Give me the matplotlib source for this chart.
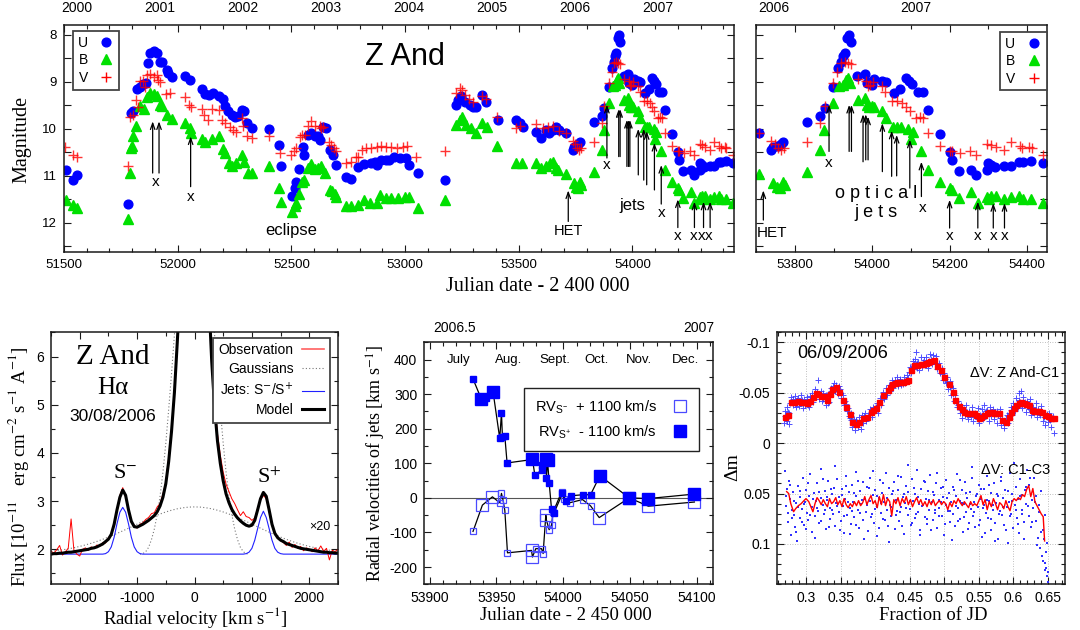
import numpy as np
import matplotlib
matplotlib.use("Agg")
import matplotlib.pyplot as plt
from matplotlib.ticker import MultipleLocator, FuncFormatter, NullFormatter
from matplotlib.lines import Line2D
import matplotlib.transforms as mtrans

SANS = ["Liberation Sans", "DejaVu Sans"]
SERIF = ["Liberation Serif", "DejaVu Serif"]
plt.rcParams["font.family"] = SANS
plt.rcParams["axes.unicode_minus"] = False
plt.rcParams["mathtext.fontset"] = "stix"

# ------------------------------------------------------------------ data
# light curves (JD - 2400000, magnitude)
U_JD = [51509, 51538, 51556, 51780, 51794, 51805, 51820, 51834, 51849, 51860,
        51871, 51878, 51897, 51907, 51922, 51929, 51951, 51958, 51977, 52032,
        52054, 52105, 52122, 52137, 52156, 52183, 52200, 52207, 52222, 52237,
        52251, 52266, 52281, 52291, 52307, 52325, 52402, 52445, 52456,
        52505, 52515, 52522, 52534, 52552, 52555, 52574, 52588, 52603, 52617,
        52628, 52639, 52651, 52672, 52683, 52698, 52742, 52764, 52793, 52818,
        52852, 52866, 52877, 52896, 52918, 52929, 52950, 52976, 53006, 53017,
        53057, 53174, 53225, 53233, 53247, 53262, 53284, 53299, 53313, 53340,
        53357, 53408, 53489, 53504, 53518,
        53577, 53599, 53621, 53635, 53650, 53665, 53676,
        53708, 53739, 53744, 53755, 53763, 53769, 53832, 53865, 53877, 53899,
        53912, 53918, 53925, 53929, 53935, 53940, 53946, 53961, 53981, 53987,
        53994, 53998, 54005, 54026, 54035, 54056, 54071, 54087, 54095, 54102,
        54118, 54130, 54144, 54174, 54200, 54205, 54223, 54256, 54269, 54297,
        54299, 54308, 54317, 54340, 54360, 54379, 54390, 54411, 54441]
U_MAG = [10.87, 11.09, 10.99, 11.60, 9.67, 9.61, 9.15, 9.10, 9.05, 9.03,
         8.59, 8.39, 8.35, 8.39, 8.57, 8.57, 8.74, 8.82, 8.90, 8.87,
         8.96, 9.16, 9.26, 9.28, 9.24, 9.31, 9.37, 9.52, 9.63, 9.70,
         9.74, 9.72, 9.60, 9.61, 9.87, 9.99, 10.00, 10.34, 10.78,
         11.42, 11.26, 11.12, 10.85, 10.39, 10.55, 10.13, 10.09, 10.16, 10.16,
         10.23, 9.96, 9.99, 10.45, 10.55, 10.77, 11.03, 11.07, 10.82, 10.74,
         10.73, 10.70, 10.77, 10.66, 10.66, 10.66, 10.59, 10.62, 10.62, 10.77,
         10.94, 11.09, 9.49, 9.38, 9.30, 9.42, 9.49, 9.54, 9.54, 9.28,
         9.42, 9.81, 9.82, 9.88, 9.95,
         10.06, 10.20, 10.02, 10.09, 10.02, 9.96, 10.02,
         10.09, 10.45, 10.38, 10.36, 10.32, 10.29, 9.86, 9.72, 9.55, 9.10,
         8.71, 8.57, 8.46, 8.39, 8.07, 8.00, 8.16, 8.87, 8.84, 9.03,
         9.00, 9.06, 8.94, 8.99, 9.01, 9.24, 9.15, 8.92, 8.98, 9.04,
         9.21, 9.21, 9.60, 10.11, 10.50, 10.66, 10.89, 10.87, 10.99, 10.87,
         10.73, 10.77, 10.82, 10.79, 10.79, 10.70, 10.70, 10.68, 10.73]

B_JD = [51509, 51538, 51556, 51780, 51790, 51794, 51797, 51805, 51816, 51834,
        51851, 51866, 51878, 51895, 51907, 51922, 51929, 51954, 51977, 52032,
        52054, 52057, 52105, 52122, 52153, 52183, 52200, 52207, 52226, 52241,
        52256, 52285, 52291, 52310, 52329, 52402, 52445, 52456,
        52505, 52515, 52522, 52534, 52549, 52555, 52574, 52588, 52603, 52617,
        52632, 52647, 52669, 52680, 52691, 52698, 52742, 52764, 52793, 52818,
        52845, 52877, 52888, 52918, 52940, 52969, 52998, 53017, 53057, 53174,
        53225, 53240, 53252, 53269, 53291, 53313, 53340, 53360, 53404, 53489,
        53515,
        53577, 53599, 53621, 53638, 53650, 53662, 53672,
        53708, 53743, 53753, 53761, 53770, 53775, 53832, 53865, 53875, 53899,
        53915, 53923, 53932, 53938, 53942, 53964, 53981, 53985, 53992, 53998,
        54004, 54026, 54035, 54054, 54063, 54073, 54093, 54099, 54106, 54127,
        54144, 54174, 54200, 54205, 54223, 54256, 54273, 54297, 54301, 54308,
        54320, 54340, 54360, 54379, 54390, 54411, 54441]
B_MAG = [11.51, 11.62, 11.69, 11.92, 10.93, 10.41, 10.36, 10.16, 9.94, 9.51,
         9.58, 9.33, 9.23, 9.26, 9.31, 9.49, 9.52, 9.70, 9.79, 9.88,
         9.99, 10.08, 10.22, 10.29, 10.22, 10.16, 10.43, 10.52, 10.72, 10.79,
         10.73, 10.55, 10.70, 10.93, 10.93, 10.79, 11.26, 11.55,
         11.77, 11.65, 11.58, 11.38, 11.12, 11.09, 10.84, 10.74, 10.86, 10.84,
         10.79, 10.94, 11.30, 11.33, 11.38, 11.44, 11.64, 11.64, 11.62, 11.51,
         11.58, 11.58, 11.40, 11.48, 11.48, 11.48, 11.45, 11.45, 11.69, 11.51,
         9.91, 9.81, 9.74, 9.91, 9.99, 10.09, 9.88, 9.95, 10.36, 10.73,
         10.73,
         10.72, 10.84, 10.78, 10.73, 10.70, 10.84, 10.87,
         10.96, 11.16, 11.23, 11.26, 11.14, 11.19, 10.92, 10.46, 10.02, 9.44,
         9.09, 9.06, 8.97, 8.92, 9.03, 9.38, 9.35, 9.49, 9.54, 9.51,
         9.54, 9.63, 9.77, 9.95, 9.96, 9.95, 10.00, 10.22, 10.06, 10.47,
         10.87, 11.14, 11.26, 11.31, 11.48, 11.35, 11.57, 11.44, 11.50, 11.43,
         11.43, 11.50, 11.44, 11.43, 11.50, 11.50, 11.57]

V_JD = [51504, 51538, 51556, 51780, 51790, 51802, 51816, 51827, 51834, 51846,
        51856, 51866, 51878, 51897, 51907, 51915, 51922, 51948, 51966, 52032,
        52051, 52057, 52105, 52115, 52134, 52153, 52183, 52196, 52207, 52229,
        52244, 52256, 52281, 52288, 52303, 52325, 52402, 52449,
        52500, 52511, 52522, 52537, 52549, 52559, 52574, 52588, 52603, 52625,
        52632, 52639, 52666, 52676, 52686, 52698, 52742, 52764, 52783, 52793,
        52812, 52830, 52852, 52877, 52896, 52918, 52940, 52965, 52991, 53009,
        53050, 53174, 53225, 53240, 53252, 53262, 53281, 53301, 53340, 53357,
        53404, 53486, 53504,
        53577, 53606, 53628, 53650, 53679,
        53708, 53739, 53748, 53756, 53764, 53772, 53832, 53865, 53877, 53897,
        53909, 53920, 53929, 53938, 53946, 53963, 53983, 53989, 53995, 54002,
        54024, 54032, 54050, 54063, 54076, 54087, 54097, 54114, 54123, 54130,
        54144, 54174, 54200, 54205, 54226, 54252, 54269, 54297, 54308, 54319,
        54342, 54360, 54381, 54388, 54406, 54413, 54441]
V_MAG = [10.38, 10.55, 10.60, 10.79, 9.74, 9.70, 9.38, 9.54, 8.99, 8.99,
         9.10, 8.85, 8.83, 8.89, 8.85, 8.96, 9.01, 9.26, 9.23, 9.33,
         9.49, 9.54, 9.58, 9.70, 9.81, 9.58, 9.60, 9.81, 9.88, 9.95,
         10.02, 10.06, 9.77, 9.94, 10.15, 10.20, 10.16, 10.52,
         10.55, 10.48, 10.41, 10.18, 10.13, 10.13, 9.94, 9.84, 9.94, 9.94,
         9.99, 9.96, 10.29, 10.34, 10.41, 10.48, 10.72, 10.70, 10.60, 10.59,
         10.46, 10.41, 10.41, 10.38, 10.36, 10.38, 10.38, 10.41, 10.38, 10.36,
         10.59, 10.48, 9.24, 9.13, 9.17, 9.28, 9.37, 9.42, 9.31, 9.37,
         9.74, 9.99, 9.94,
         9.89, 9.99, 9.95, 9.94, 10.04,
         10.09, 10.25, 10.32, 10.41, 10.45, 10.41, 10.29, 9.88, 9.52, 9.03,
         8.78, 8.60, 8.57, 8.59, 8.62, 8.94, 8.98, 9.09, 9.06, 9.01,
         9.09, 9.21, 9.40, 9.40, 9.44, 9.54, 9.63, 9.77, 9.74, 9.77,
         10.09, 10.36, 10.47, 10.48, 10.52, 10.48, 10.55, 10.32, 10.34, 10.39,
         10.46, 10.29, 10.36, 10.41, 10.38, 10.41, 10.55]

# arrows marking jet / x-ray events (JD, head & tail magnitudes per panel)
EARLY_ARROW_JD = [51890, 51918, 52057]
EARLY_HEAD = [9.84, 9.84, 10.16]
EARLY_TAIL = [10.94, 10.94, 11.23]
ARROW_JD = [53718, 53888, 53940, 53946, 53976, 53983, 53989, 54026, 54050,
            54063, 54097, 54127, 54200, 54273, 54313, 54342]
HEAD_L = [11.31, 9.49, 9.58, 9.58, 9.81, 9.81, 9.81, 10.00, 10.00, 10.05,
          10.30, 10.77, 11.50, 11.55, 11.55, 11.55]
TAIL_L = [11.97, 10.62, 10.59, 10.59, 10.80, 10.80, 10.80, 10.98, 11.09,
          11.19, 11.30, 11.60, 12.10, 12.10, 12.10, 12.10]
HEAD_R = [11.31, 9.49, 9.49, 9.49, 9.69, 9.69, 9.74, 9.88, 10.04, 10.13,
          10.23, 10.70, 11.51, 11.55, 11.58, 11.58]
TAIL_R = [11.94, 10.48, 10.48, 10.48, 10.70, 10.66, 10.66, 10.91, 11.01,
          11.00, 11.26, 11.44, 12.11, 12.11, 12.11, 12.11]
X_LABEL_JD_L = [51904, 52057, 53886, 54127, 54200, 54270, 54305, 54335]
X_LABEL_MAG_L = [11.14, 11.44, 10.77, 11.80, 12.29, 12.29, 12.29, 12.29]
X_LABEL_JD_R = [53888, 54129, 54200, 54273, 54313, 54342]
X_LABEL_MAG_R = [10.73, 11.69, 12.29, 12.29, 12.29, 12.29]
YEARS = [2000, 2001, 2002, 2003, 2004, 2005, 2006, 2007]

# H-alpha profile (velocity grid in km/s)
VEL_START, VEL_STOP, VEL_STEP = -2500, 2500, 50
OBS_FLUX = [1.96, 1.92, 1.99, 2.08, 1.88, 1.95, 2.02, 2.63, 1.97, 1.90,
            1.86, 2.00, 2.03, 1.98, 2.05, 2.02, 2.09, 2.06, 2.14, 2.13,
            2.24, 2.29, 2.55, 2.80, 3.12, 3.28, 3.08, 2.85, 2.55, 2.50,
            2.44, 2.52, 2.55, 2.62, 2.66, 2.74, 2.76, 2.88, 2.95, 3.15,
            3.40, 3.90, 4.50, 5.30, 6.35, 7.50, 8.50, 9.30, 9.90, 10.2,
            10.3,
            10.2, 9.9, 9.3, 8.4, 7.3, 6.1, 5.1, 4.4, 3.95, 3.60,
            3.35, 3.20, 3.05, 2.95, 2.82, 2.70, 2.78, 2.68, 2.66, 2.60,
            2.65, 2.85, 3.02, 3.12, 3.05, 2.80, 2.50, 2.35, 2.25, 2.18,
            2.14, 2.08, 2.15, 2.04, 2.10, 2.02, 2.06, 1.97, 2.03, 2.00,
            1.95, 2.03, 1.97, 2.07, 1.96, 2.02, 1.78, 1.98, 1.95, 2.00]
MODEL_FLUX = [1.90, 1.91, 1.91, 1.92, 1.92, 1.93, 1.94, 1.94, 1.95, 1.96,
              1.97, 1.98, 1.99, 2.00, 2.02, 2.03, 2.05, 2.08, 2.11, 2.16,
              2.21, 2.31, 2.52, 2.82, 3.08, 3.23, 3.12, 2.82, 2.58, 2.47,
              2.46, 2.49, 2.52, 2.56, 2.60, 2.65, 2.70, 2.78, 2.90, 3.08,
              3.36, 3.82, 4.45, 5.25, 6.30, 7.40, 8.40, 9.20, 9.80, 10.1,
              10.2,
              10.1, 9.8, 9.2, 8.3, 7.2, 5.9, 4.95, 4.25, 3.78, 3.42,
              3.15, 2.97, 2.83, 2.73, 2.65, 2.59, 2.54, 2.50, 2.48, 2.50,
              2.60, 2.82, 3.05, 3.18, 3.10, 2.82, 2.52, 2.33, 2.24, 2.19,
              2.16, 2.12, 2.10, 2.08, 2.06, 2.04, 2.02, 2.01, 2.00, 1.99,
              1.98, 1.97, 1.96, 1.95, 1.94, 1.94, 1.93, 1.93, 1.92, 1.92]
BROAD_V = [-2500, -2400, -2300, -2200, -2100, -2000, -1900, -1800, -1700,
           -1600, -1500, -1400, -1300, -1200, -1100, -1000, -900, -800, -700,
           -600, -500, -400, -300, -200, -100, 0, 100, 200, 300, 400, 500,
           600, 700, 800, 900, 1000, 1100, 1200, 1300, 1400, 1500, 1600,
           1700, 1800, 1900, 2000, 2100, 2200, 2300, 2400, 2500]
BROAD_FLUX = [1.958, 1.972, 1.989, 2.009, 2.033, 2.060, 2.091, 2.125, 2.164,
              2.207, 2.253, 2.303, 2.356, 2.410, 2.466, 2.522, 2.579, 2.633,
              2.685, 2.732, 2.775, 2.811, 2.841, 2.862, 2.876, 2.880, 2.876,
              2.862, 2.841, 2.811, 2.775, 2.732, 2.685, 2.633, 2.579, 2.522,
              2.466, 2.410, 2.356, 2.303, 2.253, 2.207, 2.164, 2.125, 2.091,
              2.060, 2.033, 2.009, 1.989, 1.972, 1.958]
NARROW_V = [-950, -900, -850, -800, -750, -700, -650, -600, -550, -500, -450,
            -400, -350, -300, -250, -200, -150, -100, -50, 0, 50, 100, 150,
            200, 250, 300, 350, 400, 450, 500, 550, 600, 650, 700, 750, 800,
            850, 900, 950]
NARROW_FLUX = [1.90, 1.91, 1.95, 2.04, 2.20, 2.42, 2.72, 3.10, 3.60, 4.20,
               4.90, 5.65, 6.45, 7.20, 7.90, 8.45, 8.85, 9.10, 9.25, 9.30,
               9.25, 9.10, 8.85, 8.45, 7.90, 7.20, 6.45, 5.65, 4.90, 4.20,
               3.60, 3.10, 2.72, 2.42, 2.20, 2.04, 1.95, 1.91, 1.90]
JET_V = [-2500, -1600, -1550, -1500, -1450, -1400, -1350, -1300, -1250,
         -1200, -1150, -1100, -1050, -1000, -950, -900, 850, 900, 950, 1000,
         1050, 1100, 1150, 1200, 1250, 1300, 1350, 1400, 1450, 1500, 1550,
         2500]
JET_FLUX = [1.90, 1.90, 1.91, 1.95, 2.05, 2.25, 2.53, 2.77, 2.87, 2.77, 2.53,
            2.25, 2.05, 1.95, 1.91, 1.90, 1.90, 1.91, 1.94, 2.02, 2.19, 2.43,
            2.66, 2.79, 2.66, 2.43, 2.19, 2.02, 1.94, 1.91, 1.90, 1.90]

# jet radial velocities (JD - 2450000, km/s, weight)
SP_JD = [53932.5, 53938.8, 53942.5, 53947.5, 53952.5, 53953.8, 53954.5,
         53956.3, 53958.0, 53977.0, 53978.8, 53983.8, 53984.5, 53987.0,
         53987.5, 53988.3, 53989.5, 53991.3, 53993.0, 53999.5, 54002.0,
         54005.5, 54014.5, 54020.5, 54027.5, 54049.5, 54063.8, 54098.3]
SP_RV = [344, 285, 290, 307, 172, 246, 177, 179, 101, 111, 66, 80, 95, 112,
         58, 110, 44, -33, -45, 13, -8, 6, 9, 9, 64, 0, -2, 11]
SP_W = [1, 2, 1, 2, 1, 1, 1, 1, 1, 2, 1, 1, 1, 2, 1, 2, 1, 1, 1, 1, 1, 1, 1,
        1, 2, 2, 2, 2]
SM_JD = [53932.5, 53939.5, 53947.0, 53952.5, 53953.8, 53955.0, 53956.3,
         53958.3, 53976.3, 53977.0, 53979.5, 53983.8, 53985.0, 53987.0,
         53987.5, 53989.5, 53991.3, 53992.5, 53998.8, 54000.5, 54005.0,
         54014.5, 54020.5, 54027.0, 54049.5, 54063.8, 54098.3]
SM_RV = [-97, -21, 3, -14, 13, -7, -36, -159, -152, -171, -147, -147, -161,
         -50, -65, -92, -79, -41, 17, -2, -14, -5, -23, -57, 0, -24, -12]
SM_W = [1, 2, 2, 1, 1, 1, 1, 1, 2, 2, 1, 1, 1, 2, 2, 1, 1, 1, 1, 1, 1, 1, 1,
        2, 2, 2, 2]
MONTHS = ["July", "Aug.", "Sept.", "Oct.", "Nov.", "Dec."]
MONTH_JD = [53922, 53959.5, 53993.5, 54025, 54057, 54091.5]
TOP_YEARS_RV = [2006.5, 2007.0]

# photometry 06/09/2006 (fraction of JD, delta mag)
ZC1_X = [0.269, 0.274, 0.278, 0.283, 0.288, 0.293, 0.298, 0.302, 0.306, 0.310,
         0.314, 0.318, 0.322, 0.326, 0.331, 0.335, 0.338, 0.343, 0.348, 0.353,
         0.358, 0.363, 0.367, 0.372, 0.377, 0.382, 0.388, 0.394, 0.397, 0.401,
         0.406, 0.412, 0.418, 0.421, 0.425, 0.428, 0.432, 0.436, 0.440, 0.444,
         0.447, 0.452, 0.456, 0.461, 0.466, 0.469, 0.473, 0.477, 0.480, 0.485,
         0.490, 0.495, 0.500, 0.507, 0.512, 0.516, 0.521, 0.525, 0.529, 0.533,
         0.538, 0.543, 0.546, 0.550, 0.553, 0.557, 0.561, 0.565, 0.569, 0.572,
         0.575, 0.579, 0.584, 0.589, 0.593, 0.597, 0.601, 0.604, 0.608, 0.611,
         0.615, 0.618, 0.622, 0.627, 0.630, 0.634, 0.637, 0.641, 0.646, 0.650,
         0.654, 0.658]
ZC1_Y = [-0.026, -0.028, -0.041, -0.041, -0.042, -0.041, -0.041, -0.040, -0.042, -0.046,
         -0.050, -0.049, -0.047, -0.047, -0.043, -0.049, -0.054, -0.056, -0.051, -0.043,
         -0.036, -0.029, -0.021, -0.019, -0.021, -0.025, -0.026, -0.031, -0.033, -0.035,
         -0.041, -0.048, -0.053, -0.056, -0.059, -0.060, -0.061, -0.061, -0.061, -0.062,
         -0.063, -0.073, -0.078, -0.078, -0.079, -0.079, -0.080, -0.081, -0.082, -0.083,
         -0.077, -0.073, -0.066, -0.059, -0.051, -0.043, -0.037, -0.034, -0.031, -0.030,
         -0.030, -0.030, -0.028, -0.025, -0.026, -0.028, -0.030, -0.031, -0.031, -0.030,
         -0.030, -0.030, -0.023, -0.021, -0.026, -0.031, -0.035, -0.038, -0.040, -0.041,
         -0.040, -0.039, -0.038, -0.033, -0.032, -0.032, -0.032, -0.031, -0.028, -0.027,
         -0.025, -0.025]
ZC1_RAW = [(0.268, -0.020), (0.270, -0.032), (0.271, -0.024), (0.273, -0.036), (0.275, -0.019),
           (0.276, -0.030), (0.279, -0.046), (0.281, -0.038), (0.284, -0.047), (0.286, -0.036),
           (0.289, -0.045), (0.291, -0.040), (0.293, -0.048), (0.295, -0.035), (0.297, -0.044),
           (0.299, -0.038), (0.301, -0.046), (0.304, -0.036), (0.306, -0.044), (0.308, -0.050),
           (0.310, -0.041), (0.313, -0.054), (0.315, -0.046), (0.317, -0.063), (0.319, -0.044),
           (0.321, -0.052), (0.323, -0.042), (0.325, -0.050), (0.327, -0.045), (0.329, -0.038),
           (0.331, -0.048), (0.333, -0.041), (0.336, -0.055), (0.338, -0.050), (0.340, -0.060),
           (0.342, -0.052), (0.344, -0.058), (0.346, -0.049), (0.349, -0.054), (0.351, -0.045),
           (0.353, -0.048), (0.355, -0.038), (0.357, -0.042), (0.359, -0.032), (0.361, -0.035),
           (0.363, -0.025), (0.365, -0.030), (0.367, -0.016), (0.369, -0.024), (0.371, -0.013),
           (0.373, -0.022), (0.375, -0.016), (0.377, -0.026), (0.379, -0.014), (0.381, -0.028),
           (0.383, -0.020), (0.385, -0.030), (0.387, -0.022), (0.390, -0.028), (0.392, -0.034),
           (0.395, -0.026), (0.397, -0.036), (0.399, -0.031), (0.402, -0.040), (0.404, -0.030),
           (0.407, -0.045), (0.409, -0.038), (0.411, -0.051), (0.413, -0.044), (0.415, -0.055),
           (0.417, -0.048), (0.420, -0.058), (0.422, -0.052), (0.424, -0.063), (0.426, -0.055),
           (0.428, -0.060), (0.431, -0.066), (0.433, -0.057), (0.436, -0.064), (0.438, -0.058),
           (0.441, -0.066), (0.443, -0.060), (0.446, -0.068), (0.448, -0.065), (0.450, -0.076),
           (0.452, -0.070), (0.454, -0.082), (0.456, -0.074), (0.458, -0.084), (0.460, -0.075),
           (0.462, -0.081), (0.464, -0.073), (0.466, -0.085), (0.468, -0.076), (0.470, -0.083),
           (0.472, -0.078), (0.474, -0.085), (0.476, -0.075), (0.478, -0.082), (0.480, -0.088),
           (0.482, -0.079), (0.484, -0.087), (0.486, -0.080), (0.488, -0.086), (0.490, -0.074),
           (0.492, -0.080), (0.494, -0.070), (0.496, -0.075), (0.498, -0.063), (0.500, -0.070),
           (0.502, -0.060), (0.504, -0.066), (0.506, -0.054), (0.508, -0.062), (0.510, -0.048),
           (0.512, -0.055), (0.514, -0.042), (0.516, -0.048), (0.518, -0.036), (0.520, -0.042),
           (0.522, -0.030), (0.524, -0.038), (0.526, -0.025), (0.528, -0.034), (0.530, -0.028),
           (0.532, -0.038), (0.534, -0.024), (0.536, -0.032), (0.538, -0.026), (0.540, -0.036),
           (0.542, -0.022), (0.544, -0.030), (0.546, -0.027), (0.548, -0.035), (0.550, -0.020),
           (0.552, -0.028), (0.554, -0.034), (0.556, -0.024), (0.558, -0.038), (0.560, -0.028),
           (0.562, -0.033), (0.564, -0.022), (0.566, -0.036), (0.568, -0.027), (0.570, -0.034),
           (0.572, -0.024), (0.574, -0.031), (0.576, -0.020), (0.578, -0.028), (0.580, -0.034),
           (0.582, -0.018), (0.584, -0.025), (0.586, -0.015), (0.588, -0.022), (0.590, -0.028),
           (0.592, -0.020), (0.594, -0.030), (0.596, -0.036), (0.598, -0.028), (0.600, -0.040),
           (0.602, -0.032), (0.604, -0.045), (0.606, -0.036), (0.608, -0.050), (0.610, -0.041),
           (0.612, -0.035), (0.614, -0.046), (0.616, -0.038), (0.618, -0.031), (0.620, -0.042),
           (0.622, -0.034), (0.624, -0.044), (0.626, -0.028), (0.628, -0.036), (0.630, -0.030),
           (0.632, -0.040), (0.634, -0.026), (0.636, -0.034), (0.638, -0.028), (0.640, -0.037),
           (0.642, -0.022), (0.644, -0.030), (0.646, -0.018), (0.648, -0.027), (0.650, -0.021),
           (0.652, -0.030), (0.654, -0.016), (0.656, -0.025), (0.658, -0.010)]
ZC1_RAW2 = [(0.2695, -0.027), (0.2725, -0.022), (0.2745, -0.031), (0.2775, -0.040), (0.2805, -0.044),
            (0.2835, -0.039), (0.2875, -0.043), (0.2905, -0.037), (0.2945, -0.043), (0.2985, -0.041),
            (0.3025, -0.038), (0.3055, -0.047), (0.3095, -0.045), (0.3125, -0.048), (0.3165, -0.051),
            (0.3205, -0.049), (0.3245, -0.044), (0.3285, -0.048), (0.3325, -0.040), (0.3355, -0.052),
            (0.3395, -0.057), (0.3435, -0.054), (0.3475, -0.057), (0.3505, -0.050), (0.3545, -0.041),
            (0.3585, -0.039), (0.3625, -0.027), (0.3655, -0.023), (0.3685, -0.019), (0.3725, -0.023),
            (0.3765, -0.019), (0.3805, -0.023), (0.3845, -0.027), (0.3885, -0.025), (0.3925, -0.028),
            (0.3965, -0.032), (0.4005, -0.036), (0.4045, -0.038), (0.4085, -0.043), (0.4125, -0.047),
            (0.4165, -0.050), (0.4205, -0.055), (0.4245, -0.058), (0.4285, -0.063), (0.4325, -0.059),
            (0.4365, -0.063), (0.4405, -0.059), (0.4445, -0.063), (0.4485, -0.071), (0.4525, -0.075),
            (0.4565, -0.079), (0.4595, -0.090), (0.4605, -0.080), (0.4645, -0.078), (0.4685, -0.081),
            (0.4725, -0.079), (0.4765, -0.081), (0.4805, -0.084), (0.4845, -0.082), (0.4885, -0.079),
            (0.4925, -0.075), (0.4965, -0.069), (0.5005, -0.064), (0.5045, -0.061), (0.5085, -0.056),
            (0.5125, -0.049), (0.5165, -0.041), (0.5205, -0.038), (0.5245, -0.033), (0.5285, -0.031),
            (0.5325, -0.028), (0.5365, -0.029), (0.5405, -0.031), (0.5445, -0.027), (0.5485, -0.024),
            (0.5525, -0.027), (0.5565, -0.029), (0.5605, -0.032), (0.5645, -0.029), (0.5685, -0.031),
            (0.5725, -0.028), (0.5765, -0.032), (0.5805, -0.025), (0.5845, -0.021), (0.5885, -0.024),
            (0.5925, -0.027), (0.5965, -0.033), (0.6005, -0.037), (0.6045, -0.039), (0.6085, -0.043),
            (0.6105, -0.052), (0.6125, -0.039), (0.6165, -0.041), (0.6205, -0.036), (0.6245, -0.035),
            (0.6285, -0.031), (0.6325, -0.034), (0.6365, -0.030), (0.6405, -0.033), (0.6445, -0.026),
            (0.6485, -0.029), (0.6525, -0.023), (0.6565, -0.027)]
C13_X = [0.272, 0.275, 0.278, 0.282, 0.285, 0.289, 0.293, 0.297, 0.300, 0.304,
         0.307, 0.310, 0.313, 0.316, 0.319, 0.322, 0.325, 0.328, 0.331, 0.334,
         0.337, 0.340, 0.343, 0.346, 0.349, 0.352, 0.355, 0.358, 0.361, 0.364,
         0.367, 0.370, 0.373, 0.376, 0.379, 0.382, 0.385, 0.388, 0.391, 0.394,
         0.397, 0.400, 0.403, 0.406, 0.409, 0.412, 0.415, 0.418, 0.421, 0.424,
         0.427, 0.430, 0.433, 0.436, 0.439, 0.442, 0.445, 0.448, 0.451, 0.454,
         0.457, 0.460, 0.463, 0.466, 0.469, 0.472, 0.475, 0.478, 0.481, 0.484,
         0.487, 0.490, 0.493, 0.496, 0.499, 0.502, 0.505, 0.508, 0.511, 0.514,
         0.517, 0.520, 0.523, 0.526, 0.529, 0.532, 0.535, 0.538, 0.541, 0.544,
         0.547, 0.550, 0.553, 0.556, 0.559, 0.562, 0.565, 0.568, 0.571, 0.574,
         0.577, 0.580, 0.583, 0.586, 0.589, 0.592, 0.595, 0.598, 0.601, 0.604,
         0.607, 0.610, 0.613, 0.616, 0.619, 0.622, 0.625, 0.628, 0.631, 0.634,
         0.637, 0.640, 0.643, 0.645]
C13_Y = [0.048, 0.050, 0.060, 0.068, 0.065, 0.062, 0.060, 0.057, 0.055, 0.058,
         0.063, 0.068, 0.060, 0.054, 0.057, 0.061, 0.056, 0.060, 0.063, 0.055,
         0.060, 0.058, 0.054, 0.061, 0.057, 0.063, 0.055, 0.061, 0.064, 0.060,
         0.063, 0.058, 0.062, 0.057, 0.062, 0.059, 0.053, 0.061, 0.056, 0.052,
         0.060, 0.057, 0.064, 0.053, 0.061, 0.051, 0.062, 0.055, 0.058, 0.072,
         0.056, 0.060, 0.054, 0.062, 0.055, 0.059, 0.053, 0.061, 0.056, 0.063,
         0.058, 0.054, 0.060, 0.056, 0.062, 0.058, 0.063, 0.057, 0.061, 0.056,
         0.062, 0.059, 0.057, 0.061, 0.058, 0.060, 0.066, 0.059, 0.063, 0.057,
         0.060, 0.055, 0.059, 0.062, 0.058, 0.061, 0.064, 0.058, 0.062, 0.060,
         0.062, 0.057, 0.052, 0.061, 0.056, 0.066, 0.058, 0.063, 0.055, 0.060,
         0.066, 0.059, 0.061, 0.065, 0.057, 0.063, 0.067, 0.058, 0.055, 0.057,
         0.054, 0.056, 0.051, 0.053, 0.046, 0.042, 0.053, 0.045, 0.058, 0.062,
         0.066, 0.070, 0.073, 0.097]
C13_RAW = [(0.270, 0.028), (0.271, 0.062), (0.272, 0.045), (0.274, 0.078), (0.275, 0.038),
           (0.277, 0.055), (0.278, 0.091), (0.280, 0.066), (0.281, 0.048), (0.283, 0.071),
           (0.284, 0.083), (0.286, 0.059), (0.287, 0.097), (0.289, 0.042), (0.291, 0.074),
           (0.292, 0.053), (0.294, 0.065), (0.295, 0.035), (0.297, 0.081), (0.298, 0.058),
           (0.300, 0.046), (0.302, 0.069), (0.303, 0.076), (0.305, 0.052), (0.306, 0.031),
           (0.308, 0.063), (0.309, 0.088), (0.311, 0.049), (0.313, 0.072), (0.314, 0.057),
           (0.316, 0.040), (0.317, 0.067), (0.319, 0.079), (0.321, 0.054), (0.322, 0.026),
           (0.324, 0.061), (0.326, 0.070), (0.327, 0.047), (0.329, 0.085), (0.330, 0.056),
           (0.332, 0.038), (0.334, 0.064), (0.335, 0.075), (0.337, 0.050), (0.338, 0.066),
           (0.340, 0.044), (0.342, 0.082), (0.343, 0.059), (0.345, 0.036), (0.347, 0.068),
           (0.348, 0.053), (0.350, 0.077), (0.352, 0.045), (0.353, 0.062), (0.355, 0.089),
           (0.357, 0.055), (0.358, 0.033), (0.360, 0.071), (0.362, 0.048), (0.363, 0.064),
           (0.365, 0.080), (0.367, 0.041), (0.368, 0.058), (0.370, 0.073), (0.372, 0.052),
           (0.373, 0.029), (0.375, 0.066), (0.377, 0.084), (0.378, 0.047), (0.380, 0.060),
           (0.382, 0.039), (0.383, 0.076), (0.385, 0.055), (0.387, 0.068), (0.388, 0.043),
           (0.390, 0.087), (0.392, 0.057), (0.393, 0.035), (0.395, 0.070), (0.397, 0.051),
           (0.398, 0.079), (0.400, 0.046), (0.402, 0.063), (0.403, 0.092), (0.405, 0.054),
           (0.407, 0.037), (0.408, 0.069), (0.410, 0.049), (0.412, 0.075), (0.413, 0.058),
           (0.415, 0.030), (0.417, 0.066), (0.418, 0.082), (0.420, 0.044), (0.422, 0.061),
           (0.423, 0.072), (0.425, 0.050), (0.427, 0.039), (0.428, 0.085), (0.430, 0.056),
           (0.432, 0.067), (0.433, 0.046), (0.435, 0.077), (0.437, 0.034), (0.438, 0.063),
           (0.440, 0.053), (0.442, 0.090), (0.443, 0.059), (0.445, 0.042), (0.447, 0.071),
           (0.448, 0.048), (0.450, 0.065), (0.452, 0.081), (0.453, 0.036), (0.455, 0.057),
           (0.457, 0.074), (0.458, 0.050), (0.460, 0.027), (0.462, 0.068), (0.463, 0.060),
           (0.465, 0.086), (0.467, 0.045), (0.468, 0.062), (0.470, 0.038), (0.472, 0.073),
           (0.473, 0.055), (0.475, 0.080), (0.477, 0.047), (0.478, 0.066), (0.480, 0.032),
           (0.482, 0.058), (0.483, 0.076), (0.485, 0.051), (0.487, 0.069), (0.488, 0.040),
           (0.490, 0.084), (0.492, 0.056), (0.493, 0.064), (0.495, 0.044), (0.497, 0.072),
           (0.498, 0.053), (0.500, 0.091), (0.502, 0.061), (0.503, 0.037), (0.505, 0.067),
           (0.507, 0.049), (0.508, 0.078), (0.510, 0.058), (0.512, 0.043), (0.513, 0.070),
           (0.515, 0.082), (0.517, 0.052), (0.518, 0.031), (0.520, 0.064), (0.522, 0.057),
           (0.523, 0.075), (0.525, 0.046), (0.527, 0.088), (0.528, 0.060), (0.530, 0.039),
           (0.532, 0.068), (0.533, 0.054), (0.535, 0.079), (0.537, 0.048), (0.538, 0.065),
           (0.540, 0.035), (0.542, 0.072), (0.543, 0.058), (0.545, 0.083), (0.547, 0.050),
           (0.548, 0.063), (0.550, 0.041), (0.552, 0.076), (0.553, 0.055), (0.555, 0.093),
           (0.557, 0.061), (0.558, 0.045), (0.560, 0.069), (0.562, 0.033), (0.563, 0.074),
           (0.565, 0.057), (0.567, 0.086), (0.568, 0.049), (0.570, 0.066), (0.572, 0.040),
           (0.573, 0.079), (0.575, 0.059), (0.577, 0.052), (0.578, 0.095), (0.580, 0.067),
           (0.582, 0.038), (0.583, 0.071), (0.585, 0.054), (0.587, 0.081), (0.588, 0.046),
           (0.590, 0.063), (0.592, 0.099), (0.593, 0.058), (0.595, 0.030), (0.597, 0.070),
           (0.598, 0.050), (0.600, 0.084), (0.602, 0.061), (0.603, 0.043), (0.605, 0.074),
           (0.607, 0.055), (0.608, 0.089), (0.610, 0.036), (0.612, 0.066), (0.613, 0.051),
           (0.615, 0.078), (0.617, 0.046), (0.618, 0.060), (0.620, 0.027), (0.622, 0.072),
           (0.623, 0.041), (0.625, 0.083), (0.627, 0.056), (0.628, 0.064), (0.630, 0.035),
           (0.632, 0.077), (0.633, 0.052), (0.635, 0.094), (0.637, 0.061), (0.638, 0.104),
           (0.640, 0.047), (0.642, 0.117), (0.643, 0.086), (0.645, 0.126), (0.646, 0.071),
           (0.647, 0.108), (0.648, 0.132), (0.649, 0.099), (0.650, 0.138)]
C13_RAW2 = [(0.2705, 0.052), (0.2735, 0.069), (0.2765, 0.041), (0.2795, 0.074), (0.2825, 0.057),
            (0.2855, 0.088), (0.2885, 0.063), (0.2915, 0.047), (0.2945, 0.078), (0.2975, 0.060),
            (0.3005, 0.085), (0.3035, 0.040), (0.3065, 0.071), (0.3095, 0.055), (0.3125, 0.094),
            (0.3155, 0.064), (0.3185, 0.048), (0.3215, 0.077), (0.3245, 0.036), (0.3275, 0.066),
            (0.3305, 0.053), (0.3335, 0.083), (0.3365, 0.045), (0.3395, 0.070), (0.3425, 0.023),
            (0.3455, 0.062), (0.3485, 0.086), (0.3515, 0.051), (0.3545, 0.072), (0.3575, 0.042),
            (0.3605, 0.058), (0.3635, 0.090), (0.3665, 0.067), (0.3695, 0.049), (0.3725, 0.081),
            (0.3755, 0.038), (0.3785, 0.069), (0.3815, 0.056), (0.3845, 0.095), (0.3875, 0.061),
            (0.3905, 0.044), (0.3935, 0.073), (0.3965, 0.028), (0.3995, 0.065), (0.4025, 0.052),
            (0.4055, 0.084), (0.4085, 0.059), (0.4115, 0.040), (0.4145, 0.076), (0.4175, 0.054),
            (0.4205, 0.098), (0.4235, 0.063), (0.4265, 0.047), (0.4295, 0.071), (0.4325, 0.033),
            (0.4355, 0.068), (0.4385, 0.082), (0.4415, 0.050), (0.4445, 0.064), (0.4475, 0.022),
            (0.4505, 0.057), (0.4535, 0.079), (0.4565, 0.044), (0.4595, 0.070), (0.4625, 0.053),
            (0.4655, 0.091), (0.4685, 0.061), (0.4715, 0.039), (0.4745, 0.075), (0.4775, 0.056),
            (0.4805, 0.086), (0.4835, 0.048), (0.4865, 0.066), (0.4895, 0.030), (0.4925, 0.072),
            (0.4955, 0.058), (0.4985, 0.043), (0.5015, 0.080), (0.5045, 0.054), (0.5075, 0.067),
            (0.5105, 0.096), (0.5135, 0.046), (0.5165, 0.062), (0.5195, 0.077), (0.5225, 0.037),
            (0.5255, 0.059), (0.5285, 0.073), (0.5315, 0.049), (0.5345, 0.085), (0.5375, 0.060),
            (0.5405, 0.024), (0.5435, 0.068), (0.5465, 0.052), (0.5495, 0.081), (0.5525, 0.045),
            (0.5555, 0.064), (0.5585, 0.089), (0.5615, 0.056), (0.5645, 0.041), (0.5675, 0.075),
            (0.5705, 0.061), (0.5735, 0.097), (0.5765, 0.050), (0.5795, 0.070), (0.5825, 0.034),
            (0.5855, 0.063), (0.5885, 0.086), (0.5915, 0.047), (0.5945, 0.072), (0.5975, 0.057),
            (0.6005, 0.020), (0.6035, 0.066), (0.6065, 0.080), (0.6095, 0.052), (0.6125, 0.070),
            (0.6155, 0.095), (0.6185, 0.043), (0.6215, 0.062), (0.6245, 0.035), (0.6275, 0.078),
            (0.6305, 0.058), (0.6335, 0.101), (0.6365, 0.068), (0.6395, 0.088), (0.6415, 0.112),
            (0.6435, 0.095), (0.6455, 0.119), (0.6475, 0.124), (0.6495, 0.128)]

# ------------------------------------------------------------------ style
BLUE = "#0000ff"
GREEN = "#00e000"
RED = "#ff0000"
INK = "#1a1a1a"
W, H = 1080.0, 630.0


def box(l, t, r, b):
    return [l / W, 1 - b / H, (r - l) / W, (b - t) / H]


def style(ax, size):
    ax.tick_params(which="both", direction="in", top=True, right=True,
                   labelsize=size, width=0.8, color=INK, pad=5)
    ax.tick_params(which="major", length=5)
    ax.tick_params(which="minor", length=3)
    for s in ax.spines.values():
        s.set_linewidth(1.1)
        s.set_color(INK)


def year_to_jd(y, offset):
    return (y - 2000.0) * 365.25 + 2451544.5 - offset


def arrow(ax, x, head, tail):
    ax.annotate("", xy=(x, head), xytext=(x, tail),
                arrowprops=dict(arrowstyle="->,head_length=0.45,head_width=0.16",
                                color="black", lw=0.9, shrinkA=0, shrinkB=0))


def lightcurve(ax):
    ax.plot(U_JD, U_MAG, ls="none", marker="o", ms=6.3, color=BLUE, mec=BLUE)
    ax.plot(B_JD, B_MAG, ls="none", marker="^", ms=6.5, color=GREEN, mec=GREEN)
    ax.plot(V_JD, V_MAG, ls="none", marker="+", ms=7.5, mew=1.0, color=RED,
            alpha=0.8)
    ax.set_ylim(12.62, 7.79)
    ax.yaxis.set_major_locator(MultipleLocator(0.5))
    ax.yaxis.set_major_formatter(FuncFormatter(
        lambda v, p: "%d" % round(v) if abs(v - round(v)) < 1e-6 else ""))


def lc_legend(ax, loc, anchor):
    h = [Line2D([], [], ls="none", marker="o", ms=6.3, color=BLUE),
         Line2D([], [], ls="none", marker="^", ms=6.5, color=GREEN),
         Line2D([], [], ls="none", marker="+", ms=7.5, mew=1.0, color=RED)]
    lg = ax.legend(h, ["U", "B", "V"], loc=loc, bbox_to_anchor=anchor,
                   markerfirst=False, fontsize=10, frameon=True, fancybox=False,
                   edgecolor="#444444", framealpha=1, borderaxespad=0,
                   handlelength=1.2, handletextpad=0.7, labelspacing=0.25,
                   borderpad=0.35)
    lg.get_frame().set_linewidth(1.3)


fig = plt.figure(figsize=(10.8, 6.3), dpi=100)

# ------------------------------------------------------------ top-left
ax1 = fig.add_axes(box(64, 25, 734, 252))
lightcurve(ax1)
ax1.set_xlim(51500, 54447)
ax1.xaxis.set_major_locator(MultipleLocator(500))
ax1.xaxis.set_minor_locator(MultipleLocator(100))
style(ax1, 9.5)
lc_legend(ax1, "upper left", (0.013, 0.974))
for jd, h0, t0 in zip(EARLY_ARROW_JD, EARLY_HEAD, EARLY_TAIL):
    arrow(ax1, jd, h0, t0)
for jd, h0, t0 in zip(ARROW_JD, HEAD_L, TAIL_L):
    arrow(ax1, jd, h0, t0)
for jd, m in zip(X_LABEL_JD_L, X_LABEL_MAG_L):
    ax1.text(jd, m, "x", ha="center", va="center", fontsize=11)
ax1.text(52500, 12.16, "eclipse", ha="center", va="center", fontsize=12)
ax1.text(53719, 12.18, "HET", ha="center", va="center", fontsize=10.5)
ax1.text(54001, 11.62, "jets", ha="center", va="center", fontsize=12)
ax1.text(0.509, 0.86, "Z And", transform=ax1.transAxes, ha="center",
         va="center", fontsize=22)
tr1 = mtrans.blended_transform_factory(ax1.transData, ax1.transAxes)
for y in YEARS:
    ax1.text(year_to_jd(y, 2400000) + 10, 1.075, str(y), transform=tr1,
             ha="center", va="center", fontsize=10)

# ------------------------------------------------------------ top-right
ax2 = fig.add_axes(box(756, 25, 1047, 252))
lightcurve(ax2)
ax2.set_xlim(53699, 54452)
ax2.xaxis.set_major_locator(MultipleLocator(200))
ax2.xaxis.set_minor_locator(MultipleLocator(100))
ax2.yaxis.set_major_formatter(NullFormatter())
style(ax2, 9.5)
lc_legend(ax2, "upper right", (0.999, 0.97))
for jd, h0, t0 in zip(ARROW_JD, HEAD_R, TAIL_R):
    arrow(ax2, jd, h0, t0)
for jd, m in zip(X_LABEL_JD_R, X_LABEL_MAG_R):
    ax2.text(jd, m, "x", ha="center", va="center", fontsize=11)
ax2.text(53701, 12.22, "HET", ha="left", va="center", fontsize=11)
ax2.text(54010, 11.38, "o p t i c a l", ha="center", va="center", fontsize=13)
ax2.text(54010, 11.79, "j e t s", ha="center", va="center", fontsize=13)
tr2 = mtrans.blended_transform_factory(ax2.transData, ax2.transAxes)
for y in (2006, 2007):
    ax2.text(year_to_jd(y, 2400000) + 10, 1.075, str(y), transform=tr2,
             ha="center", va="center", fontsize=10)

fig.text(22 / W, 1 - 139 / H, "Magnitude", rotation=90, ha="center",
         va="center", fontsize=14.5, family=SERIF)
fig.text(538 / W, 1 - 287 / H, "Julian date - 2 400 000", ha="center",
         va="center", fontsize=14.5, family=SERIF)

# ------------------------------------------------------------ bottom-left
ax3 = fig.add_axes(box(51, 332, 338, 584))
vel = np.arange(VEL_START, VEL_STOP + 1, VEL_STEP)
ax3.plot(NARROW_V, NARROW_FLUX, ls=(0, (1, 2)), lw=0.8, color="#777777")
ax3.plot(BROAD_V, BROAD_FLUX, ls=(0, (1, 2)), lw=0.8, color="#777777")
ax3.plot(JET_V, JET_FLUX, lw=0.8, color="#2020ff")
ax3.plot(vel, OBS_FLUX, lw=0.7, color=RED)
ax3.plot(vel, MODEL_FLUX, lw=2.2, color="black")
ax3.set_xlim(-2500, 2500)
ax3.set_ylim(1.28, 6.51)
ax3.xaxis.set_major_locator(MultipleLocator(1000))
ax3.xaxis.set_minor_locator(MultipleLocator(500))
ax3.yaxis.set_major_locator(MultipleLocator(1))
ax3.yaxis.set_minor_locator(MultipleLocator(0.5))
style(ax3, 10)
h3 = [Line2D([], [], lw=1.2, color="#ff6060"),
      Line2D([], [], ls=(0, (1, 2)), lw=0.8, color="#777777"),
      Line2D([], [], lw=0.8, color="#2020ff"),
      Line2D([], [], lw=2.2, color="black")]
lg3 = ax3.legend(h3, ["Observation", "Gaussians", "Jets: S$^{-}$/S$^{+}$", "Model"],
                 loc="upper right", bbox_to_anchor=(0.972, 0.977),
                 markerfirst=False, fontsize=10, frameon=True, fancybox=False,
                 edgecolor="#444444", framealpha=1, borderaxespad=0,
                 handlelength=1.6, handletextpad=0.6, labelspacing=0.35,
                 borderpad=0.4)
lg3.get_frame().set_linewidth(1.3)
for t in lg3.get_texts():
    t.set_math_fontfamily("dejavusans")
ax3.text(0.216, 0.90, "Z And", transform=ax3.transAxes, ha="center",
         va="center", fontsize=21, family=SERIF)
ax3.text(0.216, 0.778, "H\u03b1", transform=ax3.transAxes, ha="center",
         va="center", fontsize=18, family=SERIF)
ax3.text(0.216, 0.663, "30/08/2006", transform=ax3.transAxes, ha="center",
         va="center", fontsize=12.5)
ax3.text(-1215, 3.58, "S$^{-}$", ha="center", va="center", fontsize=16,
         family=SERIF, math_fontfamily="stix")
ax3.text(1300, 3.48, "S$^{+}$", ha="center", va="center", fontsize=16,
         family=SERIF, math_fontfamily="stix")
ax3.text(2190, 2.46, "\u00d720", ha="center", va="center", fontsize=9)
fig.text(19 / W, 1 - 467 / H,
         "Flux [10$^{-11}$   erg cm$^{-2}$ s$^{-1}$ A$^{-1}$]", rotation=90,
         ha="center", va="center", fontsize=13.5, family=SERIF)
fig.text(195 / W, 1 - 617 / H, "Radial velocity [km s$^{-1}$]", ha="center",
         va="center", fontsize=13.5, family=SERIF)

# ------------------------------------------------------------ bottom-middle
ax4 = fig.add_axes(box(424.3, 342.3, 712.7, 584.3))
ax4.axhline(0, color="#555555", lw=0.8, zorder=1)
ax4.plot(SM_JD, SM_RV, color="black", lw=0.9, zorder=2)
ax4.plot(SP_JD, SP_RV, color="black", lw=0.9, zorder=2)
for x, y, w in zip(SM_JD, SM_RV, SM_W):
    ax4.plot(x, y, ls="none", marker="s", ms=4.5 if w == 1 else 8.5,
             mfc="none", mec="#4a4aff", mew=0.9, zorder=3)
for x, y, w in zip(SP_JD, SP_RV, SP_W):
    ax4.plot(x, y, ls="none", marker="s", ms=4.5 if w == 1 else 8.5,
             color=BLUE, mec=BLUE, zorder=4)
ax4.set_xlim(53896, 54112)
ax4.set_ylim(-250, 450)
ax4.xaxis.set_major_locator(MultipleLocator(50))
ax4.xaxis.set_minor_locator(MultipleLocator(10))
ax4.yaxis.set_major_locator(MultipleLocator(100))
ax4.yaxis.set_minor_locator(MultipleLocator(50))
style(ax4, 10)
for name, jd in zip(MONTHS, MONTH_JD):
    ax4.text(jd, 398, name, ha="center", va="center", fontsize=9.5)
tr4 = mtrans.blended_transform_factory(ax4.transData, ax4.transAxes)
for y in TOP_YEARS_RV:
    ax4.text(year_to_jd(y, 2400000), 1.06, "%g" % y, transform=tr4,
             ha="center", va="center", fontsize=10)
h4 = [Line2D([], [], ls="none", marker="s", ms=8.5, mfc="none", mec="#4a4aff",
             mew=0.9),
      Line2D([], [], ls="none", marker="s", ms=8.5, color=BLUE)]
lg4 = ax4.legend(h4, ["RV$_{\\mathregular{S^{-}}}$  + 1100 km/s",
                      "RV$_{\\mathregular{S^{+}}}$  - 1100 km/s"],
                 loc="upper right", bbox_to_anchor=(0.9525, 0.812),
                 markerfirst=False, fontsize=10.5, frameon=True,
                 fancybox=False, edgecolor="#222222", framealpha=1,
                 borderaxespad=0, handlelength=1.2, handletextpad=1.0,
                 labelspacing=0.5, borderpad=0.7)
lg4.get_frame().set_linewidth(1.0)
for t in lg4.get_texts():
    t.set_math_fontfamily("dejavusans")
fig.text(376 / W, 1 - 463 / H, "Radial velocities of jets [km s$^{-1}$]",
         rotation=90, ha="center", va="center", fontsize=13, family=SERIF)
fig.text(566 / W, 1 - 615 / H, "Julian date - 2 450 000", ha="center",
         va="center", fontsize=13.5, family=SERIF)

# ------------------------------------------------------------ bottom-right
ax5 = fig.add_axes(box(777.3, 332.3, 1065, 584.3))
ax5.grid(True, which="major", color="#aaaaaa", ls=(0, (1, 2)), lw=0.6)
ax5.set_axisbelow(True)
for pts in (ZC1_RAW, ZC1_RAW2):
    zx, zy = zip(*pts)
    ax5.plot(zx, zy, ls="none", marker="+", ms=4.0, mew=0.7, color="#3030ff",
             alpha=0.85)
for pts in (C13_RAW, C13_RAW2):
    cx, cy = zip(*pts)
    ax5.plot(cx, cy, ls="none", marker="s", ms=1.7, mew=0, color="#3030ff")
ax5.plot(ZC1_X, ZC1_Y, ls="none", marker="s", ms=3.6, color=RED, mec=RED)
ax5.plot(C13_X, C13_Y, lw=1.0, color=RED)
ax5.set_xlim(0.2585, 0.6745)
ax5.set_ylim(0.14, -0.11)
ax5.xaxis.set_major_locator(MultipleLocator(0.05))
ax5.xaxis.set_minor_locator(MultipleLocator(0.01))
ax5.yaxis.set_major_locator(MultipleLocator(0.05))
ax5.yaxis.set_minor_locator(MultipleLocator(0.01))
fmt = FuncFormatter(lambda v, p: "%g" % (round(v, 3) + 0.0))
ax5.xaxis.set_major_formatter(fmt)
ax5.yaxis.set_major_formatter(fmt)
style(ax5, 10)
ax5.text(0.229, 0.917, "06/09/2006", transform=ax5.transAxes, ha="center",
         va="center", fontsize=13)
ax5.text(0.979, 0.84, "\u0394V: Z And-C1", transform=ax5.transAxes,
         ha="right", va="center", fontsize=10.5)
ax5.text(0.948, 0.454, "\u0394V: C1-C3", transform=ax5.transAxes,
         ha="right", va="center", fontsize=10.5)
fig.text(733 / W, 1 - 467 / H, "\u0394m", rotation=90, ha="center",
         va="center", fontsize=14, family=SERIF)
fig.text(933 / W, 1 - 615 / H, "Fraction of JD", ha="center", va="center",
         fontsize=13.5, family=SERIF)

fig.savefig("out.png", dpi=100)
